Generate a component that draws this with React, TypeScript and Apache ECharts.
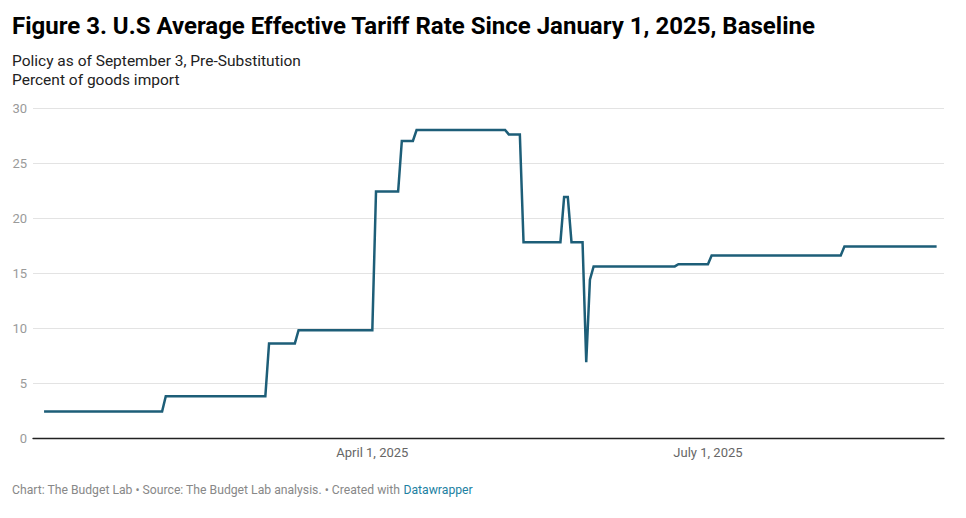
import React, { useEffect, useRef } from "react";
import * as echarts from "echarts";

// Vertices of the step line (date, percent of goods imports)
const pointDates = [
  "2025-01-02", "2025-02-03", "2025-02-04", "2025-03-03", "2025-03-04",
  "2025-03-11", "2025-03-12", "2025-04-01", "2025-04-02", "2025-04-08",
  "2025-04-09", "2025-04-12", "2025-04-13", "2025-05-07", "2025-05-08",
  "2025-05-11", "2025-05-12", "2025-05-22", "2025-05-23", "2025-05-24",
  "2025-05-25", "2025-05-28", "2025-05-29", "2025-05-30", "2025-05-31",
  "2025-06-22", "2025-06-23", "2025-07-01", "2025-07-02", "2025-08-06",
  "2025-08-07", "2025-09-01",
];
const pointValues = [
  2.4, 2.4, 3.8, 3.8, 8.6,
  8.6, 9.8, 9.8, 22.4, 22.4,
  27.0, 27.0, 28.0, 28.0, 27.6,
  27.6, 17.8, 17.8, 21.9, 21.9,
  17.8, 17.8, 6.9, 14.4, 15.6,
  15.6, 15.8, 15.8, 16.6, 16.6,
  17.4, 17.4,
];

const xTickDates = ["2025-04-01", "2025-07-01"];
const xTickLabels = ["April 1, 2025", "July 1, 2025"];
const xRange = ["2024-12-30", "2025-09-03"];
const yTicks = { min: 0, max: 30, interval: 5 };

const titleText =
  "Figure 3. U.S Average Effective Tariff Rate Since January 1, 2025, Baseline";
const subtitleLines = [
  "Policy as of September 3, Pre-Substitution",
  "Percent of goods import",
];
const footerText =
  "Chart: The Budget Lab • Source: The Budget Lab analysis. • Created with ";
const footerLink = "Datawrapper";

const toTime = (s: string) => {
  const [y, m, d] = s.split("-").map(Number);
  return Date.UTC(y, m - 1, d);
};

const FONT = "Roboto";

export default function App() {
  const ref = useRef<HTMLDivElement>(null);

  useEffect(() => {
    if (!ref.current) return;
    const chart = echarts.init(ref.current, undefined, { renderer: "svg" });
    const tickTimes = xTickDates.map(toTime);
    const data = pointDates.map((d, i) => [toTime(d), pointValues[i]]);

    chart.setOption({
      animation: false,
      backgroundColor: "#ffffff",
      textStyle: { fontFamily: FONT },
      title: [
        {
          text: titleText,
          left: 12,
          top: 12,
          padding: 0,
          textStyle: {
            fontFamily: FONT,
            fontSize: 24,
            fontWeight: "bold",
            color: "#000000",
            lineHeight: 28,
          },
        },
        {
          text: subtitleLines.join("\n"),
          left: 12,
          top: 51,
          padding: 0,
          textStyle: {
            fontFamily: FONT,
            fontSize: 15.5,
            fontWeight: "normal",
            color: "#222222",
            lineHeight: 19,
          },
        },
        {
          text: "{a|" + footerText + "}{b|" + footerLink + "}",
          left: 12,
          top: 484,
          padding: 0,
          textStyle: {
            fontFamily: FONT,
            fontSize: 12.2,
            fontWeight: "normal",
            rich: {
              a: { fontFamily: FONT, fontSize: 12.2, color: "#888888" },
              b: { fontFamily: FONT, fontSize: 12.2, color: "#1d81a2" },
            },
          },
        },
      ],
      grid: { left: 33, right: 22, top: 108, bottom: 80 },
      xAxis: {
        type: "value",
        min: toTime(xRange[0]),
        max: toTime(xRange[1]),
        axisLine: { show: true, onZero: false, lineStyle: { color: "#222222", width: 1.3 } },
        axisTick: { show: false },
        splitLine: { show: false },
        axisLabel: {
          customValues: tickTimes,
          formatter: (v: number) => {
            const i = tickTimes.indexOf(v);
            return i >= 0 ? xTickLabels[i] : "";
          },
          color: "#666666",
          fontFamily: FONT,
          fontSize: 13,
          margin: 8,
          hideOverlap: false,
        },
      },
      yAxis: {
        type: "value",
        min: yTicks.min,
        max: yTicks.max,
        interval: yTicks.interval,
        axisLine: { show: false },
        axisTick: { show: false },
        splitLine: { show: true, lineStyle: { color: "#e3e3e3", width: 1 } },
        axisLabel: {
          color: "#9a9a9a",
          fontFamily: FONT,
          fontSize: 13,
          margin: 6,
        },
      },
      series: [
        {
          type: "line",
          data,
          showSymbol: false,
          symbol: "none",
          lineStyle: { color: "#1d5e78", width: 2.5, join: "miter" },
          z: 5,
        },
      ],
    });

    return () => chart.dispose();
  }, []);

  return (
    <div
      ref={ref}
      style={{ position: "fixed", left: 0, top: 0, width: 966, height: 518 }}
    />
  );
}
